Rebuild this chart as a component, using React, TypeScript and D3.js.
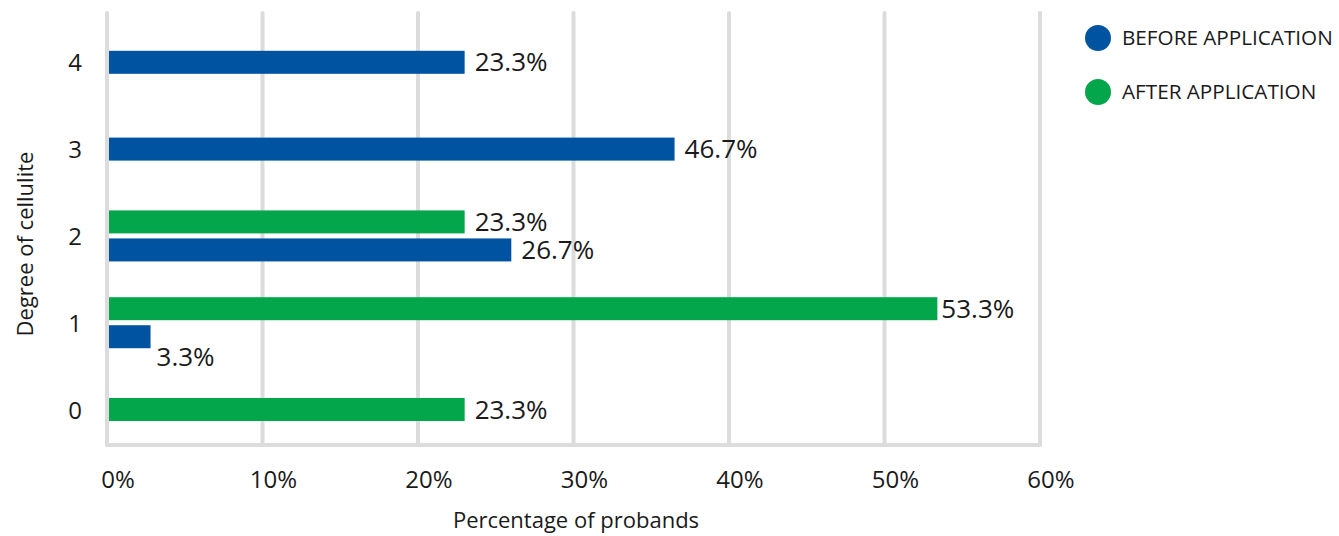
import React from "react";
import * as d3 from "d3";

const categories = ["4", "3", "2", "1", "0"];
const beforeValues: (number | null)[] = [23.0, 36.5, 26.0, 2.8, null];
const afterValues: (number | null)[] = [null, null, 23.0, 53.4, 23.0];
const beforeLabels: (string | null)[] = ["23.3%", "46.7%", "26.7%", "3.3%", null];
const afterLabels: (string | null)[] = [null, null, "23.3%", "53.3%", "23.3%"];
const xTicks = [0, 10, 20, 30, 40, 50, 60];
const seriesNames = ["BEFORE APPLICATION", "AFTER APPLICATION"];

const W = 1339;
const H = 536;
const BLUE = "#0053a1";
const GREEN = "#03a64a";
const GRID = "#dcdcdc";
const TEXT = "#1a1a1a";
const FONT = "'Open Sans', sans-serif";

export default function App() {
  const x = d3.scaleLinear().domain([0, 60]).range([107, 1040]);
  const y = d3.scalePoint<string>().domain(categories).range([62.3, 409.5]);
  const top = 13;
  const bottom = 445;
  const barH = 23;

  const bars: { key: string; x0: number; x1: number; y: number; color: string; label: string | null; below: boolean; value: number }[] = [];
  categories.forEach((c, i) => {
    const cy = y(c)!;
    const present: { s: "after" | "before"; v: number; lab: string | null }[] = [];
    if (afterValues[i] != null) present.push({ s: "after", v: afterValues[i]!, lab: afterLabels[i] });
    if (beforeValues[i] != null) present.push({ s: "before", v: beforeValues[i]!, lab: beforeLabels[i] });
    const inner = d3
      .scaleBand<string>()
      .domain(present.map((p) => p.s))
      .range(present.length === 2 ? [cy - 25.5, cy + 25.5] : [cy - barH / 2, cy + barH / 2])
      .paddingInner(present.length === 2 ? 0.18 : 0);
    present.forEach((p) => {
      bars.push({
        key: c + p.s,
        x0: x(0) + 2,
        x1: x(p.v),
        y: inner(p.s)!,
        color: p.s === "before" ? BLUE : GREEN,
        label: p.lab,
        below: p.v < 5,
        value: p.v,
      });
    });
  });

  return (
    <svg
      width={W}
      height={H}
      style={{ position: "absolute", left: 0, top: 0, background: "#fff" }}
      fontFamily={FONT}
    >
      {xTicks.map((t) => (
        <line
          key={"g" + t}
          x1={x(t)}
          x2={x(t)}
          y1={top}
          y2={bottom}
          stroke={GRID}
          strokeWidth={4}
          strokeLinecap="round"
        />
      ))}
      <line x1={x(0)} x2={x(60)} y1={bottom} y2={bottom} stroke={GRID} strokeWidth={4} strokeLinecap="round" />

      {bars.map((b) => (
        <rect key={b.key} x={b.x0} y={b.y} width={Math.max(0, b.x1 - b.x0)} height={barH} fill={b.color} />
      ))}

      {bars.map((b) =>
        b.label ? (
          <text
            key={"l" + b.key}
            x={b.below ? b.x1 + 6 : b.x1 + (b.value > 50 ? 4 : 10)}
            y={b.below ? b.y + barH + 18 : b.y + barH / 2 + 9}
            fontSize={26}
            fill={TEXT}
          >
            {b.label}
          </text>
        ) : null
      )}

      {xTicks.map((t) => (
        <text key={"t" + t} x={x(t) + 11} y={488} fontSize={24} fill={TEXT} textAnchor="middle">
          {t + "%"}
        </text>
      ))}

      {categories.map((c) => (
        <text key={"y" + c} x={75} y={y(c)! + 9} fontSize={24} fill={TEXT} textAnchor="middle">
          {c}
        </text>
      ))}

      <text x={576} y={528} fontSize={22} fill={TEXT} textAnchor="middle">
        Percentage of probands
      </text>
      <text transform="translate(33,244) rotate(-90)" fontSize={22} fill={TEXT} textAnchor="middle">
        Degree of cellulite
      </text>

      {seriesNames.map((n, i) => (
        <g key={n} transform={`translate(1098, ${38 + i * 54})`}>
          <circle r={13} fill={i === 0 ? BLUE : GREEN} />
          <text x={24} y={7} fontSize={20.7} fill={TEXT}>
            {n}
          </text>
        </g>
      ))}
    </svg>
  );
}
